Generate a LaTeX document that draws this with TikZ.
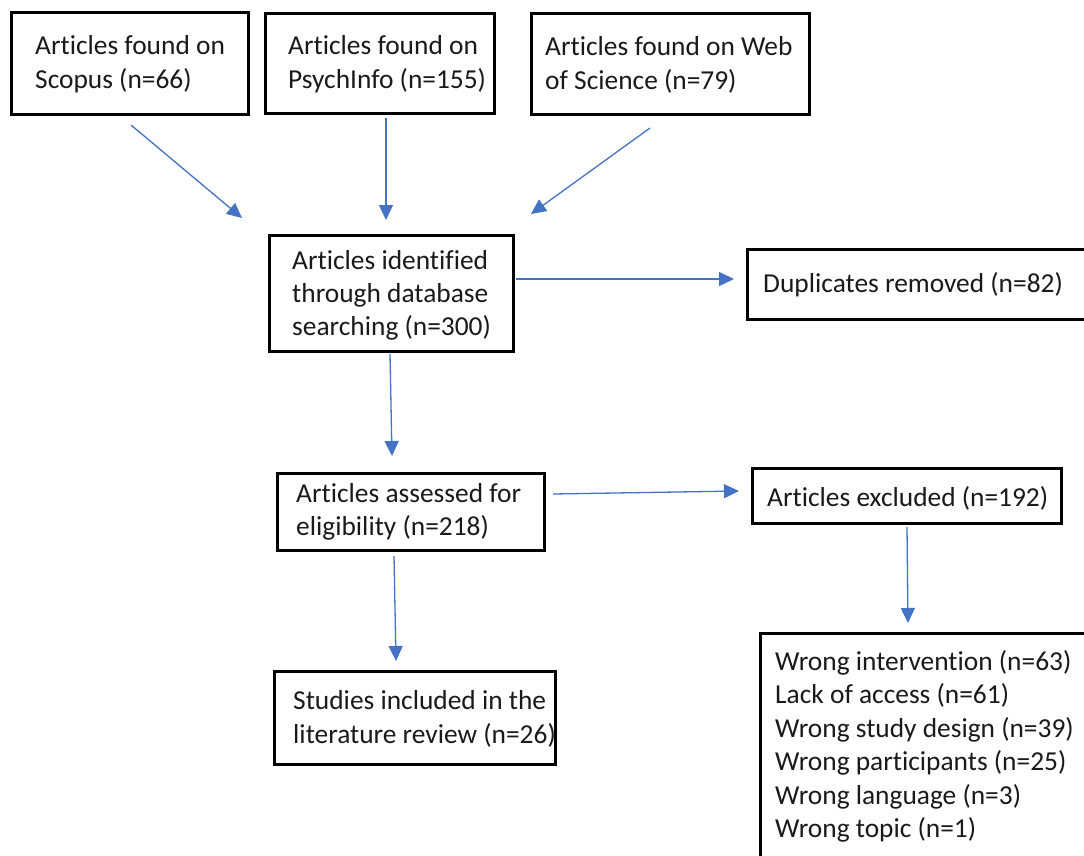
\documentclass[tikz,border=0pt]{standalone}
\usepackage{fontspec}
\setmainfont{Carlito}[Ligatures={NoCommon}]
\usetikzlibrary{arrows.meta}
\definecolor{arr}{HTML}{4472C4}
\definecolor{txt}{HTML}{1A1A1A}
\tikzset{
  box/.style={draw=black, line width=2.7pt, anchor=north west, inner sep=0pt},
  lbl/.style={anchor=west, align=left, inner sep=0pt, text=txt,
    font=\fontsize{27.4}{33.4}\selectfont},
  flow/.style={draw=arr, line width=1.3pt, -{Triangle[length=15pt,width=14pt]}}
}
\begin{document}
\begin{tikzpicture}[x=1pt,y=-1pt]
\useasboundingbox[fill=white] (0,0) rectangle (1084,856);
% boxes
\node[box, minimum width=237, minimum height=102] (scopus) at (10,11) {};
\node[box, minimum width=229, minimum height=100] (psych) at (264,12) {};
\node[box, minimum width=278, minimum height=101] (wos) at (530,12) {};
\node[box, minimum width=244, minimum height=116] (ident) at (268,234) {};
\node[box, minimum width=340, minimum height=70] (dup) at (746,248) {};
\node[box, minimum width=267, minimum height=77] (assess) at (276,472) {};
\node[box, minimum width=309, minimum height=55] (excl) at (751,467) {};
\node[box, minimum width=281, minimum height=93] (incl) at (273,670) {};
\node[box, minimum width=340, minimum height=226] (reasons) at (759,632) {};
% labels
\node[lbl] (tscopus) at ([xshift=25pt,yshift=-1pt]scopus.west) {Articles found on\\Scopus (n=66)};
\node[lbl] (tpsych) at ([xshift=24pt,yshift=-1pt]psych.west) {Articles found on\\PsychInfo (n=155)};
\node[lbl] (twos) at ([xshift=15pt,yshift=-1pt]wos.west) {Articles found on Web\\of Science (n=79)};
\node[lbl] (tident) at ([xshift=24pt,yshift=-2pt]ident.west) {Articles identified\\through database\\searching (n=300)};
\node[lbl] (tdup) at ([xshift=17pt]dup.west) {Duplicates removed (n=82)};
\node[lbl] (tassess) at ([xshift=20pt]assess.west) {Articles assessed for\\eligibility (n=218)};
\node[lbl] (texcl) at ([xshift=16pt,yshift=-3pt]excl.west) {Articles excluded (n=192)};
\node[lbl] (tincl) at ([xshift=20pt,yshift=-1pt]incl.west) {Studies included in the\\literature review (n=26)};
\node[lbl] (treasons) at ([xshift=16pt]reasons.west) {Wrong intervention (n=63)\\Lack of access (n=61)\\Wrong study design (n=39)\\Wrong participants (n=25)\\Wrong language (n=3)\\Wrong topic (n=1)};
% connector end points
\coordinate (a1) at (131,125); \coordinate (b1) at (242,218);
\coordinate (a2) at (386,118); \coordinate (b2) at (386,220);
\coordinate (a3) at (650,128); \coordinate (b3) at (531,214);
\coordinate (a4) at (516,279); \coordinate (b4) at (734,279);
\coordinate (a5) at (390,354); \coordinate (b5) at (392,456);
\coordinate (a6) at (553,494); \coordinate (b6) at (739,491);
\coordinate (a7) at (394,556); \coordinate (b7) at (396,661);
\coordinate (a8) at (907,527); \coordinate (b8) at (908,623);
\draw[flow] (a1) -- (b1);
\draw[flow] (a2) -- (b2);
\draw[flow] (a3) -- (b3);
\draw[flow] (a4) -- (b4);
\draw[flow] (a5) -- (b5);
\draw[flow] (a6) -- (b6);
\draw[flow] (a7) -- (b7);
\draw[flow] (a8) -- (b8);
\end{tikzpicture}
\end{document}
